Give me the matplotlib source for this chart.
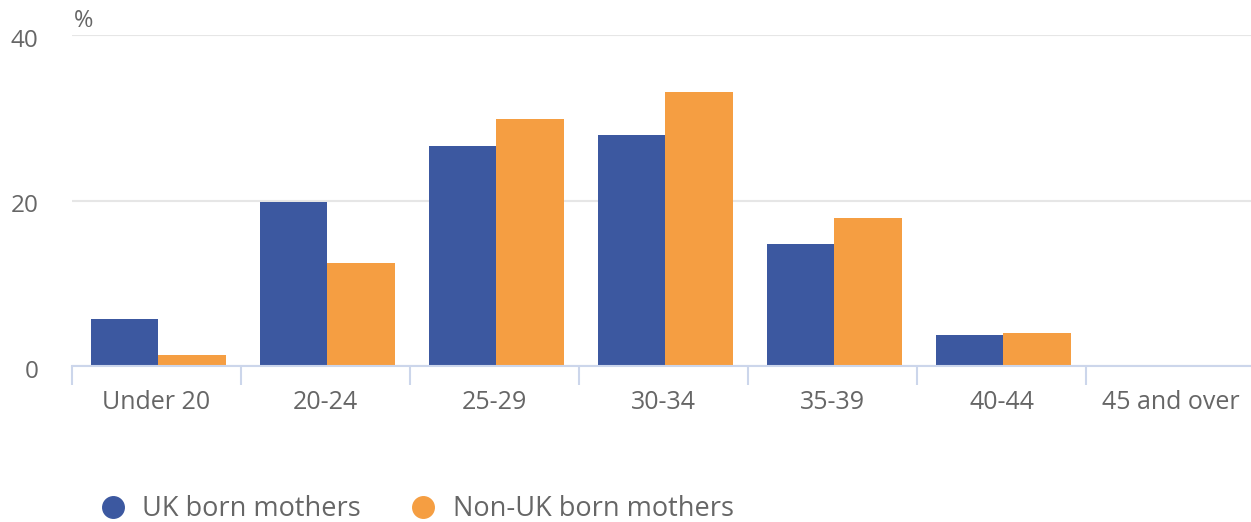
import matplotlib
matplotlib.use("Agg")
import matplotlib.pyplot as plt
from matplotlib.lines import Line2D
from matplotlib.transforms import ScaledTranslation
import numpy as np

plt.rcParams['font.family'] = ['Open Sans', 'DejaVu Sans']

categories = ["Under 20", "20-24", "25-29", "30-34", "35-39", "40-44", "45 and over"]
uk_born = [5.7, 19.8, 26.6, 27.9, 14.7, 3.8, 0.0]
non_uk_born = [1.3, 12.4, 29.9, 33.1, 17.9, 4.0, 0.0]
series_names = ["UK born mothers", "Non-UK born mothers"]
colors = ["#3c58a0", "#f59e42"]

fig = plt.figure(figsize=(12.51, 5.22), dpi=100)
ax = fig.add_axes([72/1251, 1-366/522, (1255-72)/1251, (366-35)/522])

x = np.arange(len(categories))
w = 0.4
ax.bar(x - w/2 + 0.01, uk_born, width=w, color=colors[0], zorder=3, linewidth=0)
ax.bar(x + w/2 + 0.01, non_uk_born, width=w, color=colors[1], zorder=3, linewidth=0)

ax.set_xlim(-0.5, len(categories) - 0.5)
ax.set_ylim(0, 40)
ax.set_yticks([0, 20, 40])
ax.set_yticklabels(["0", "20", "40"])
ax.tick_params(axis='y', length=0, pad=24, labelsize=17.5, labelcolor="#666666")
ax.set_xticks(x)
ax.set_xticklabels(categories)
ax.tick_params(axis='x', which='major', length=0, pad=17, labelsize=18, labelcolor="#666666")
ax.set_xticks(np.arange(-0.5, len(categories) - 1, 1.0), minor=True)
ax.tick_params(axis='x', which='minor', length=14, width=1.5, color="#ccd6eb")

offset = ScaledTranslation(0, -3/100, fig.dpi_scale_trans)
for lbl in ax.get_yticklabels():
    lbl.set_transform(lbl.get_transform() + offset)

for s in ["top", "right", "left"]:
    ax.spines[s].set_visible(False)
ax.spines["bottom"].set_color("#ccd6eb")
ax.spines["bottom"].set_linewidth(1.5)
ax.spines["bottom"].set_zorder(4)

ax.yaxis.grid(True, color="#e6e6e6", linewidth=1.5, zorder=0)
ax.set_axisbelow(True)

fig.text(74/1251, 1-21/522, "%", fontsize=17, color="#666666", ha="left", va="center")

handles = [Line2D([], [], marker='o', linestyle='none', markersize=15.5, color=c) for c in colors]
fig.legend(handles, series_names, loc="center left", bbox_to_anchor=(72/1251, 1-509/522),
           ncol=2, frameon=False, fontsize=19.5, labelcolor="#666666",
           handletextpad=0.5, columnspacing=1.7, handlelength=1.2)

fig.savefig("out.png", dpi=100)
